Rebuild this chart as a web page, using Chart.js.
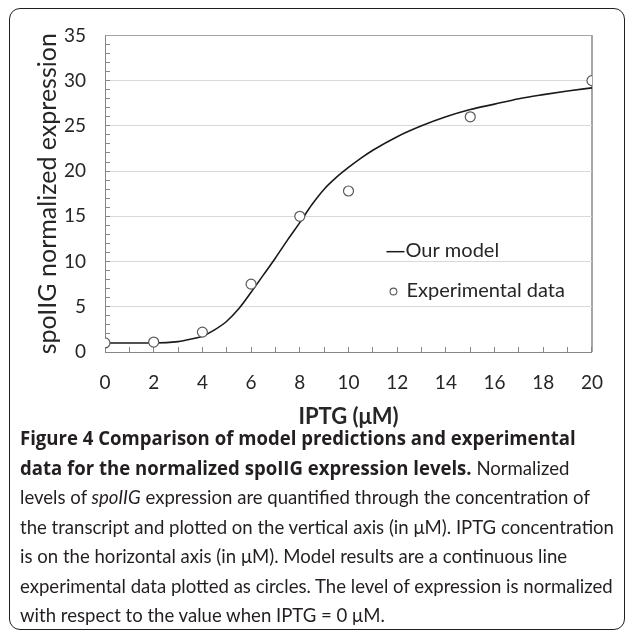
<!DOCTYPE html>
<html>
<head>
<meta charset="utf-8">
<title>Figure 4</title>
<script src="https://cdn.jsdelivr.net/npm/chart.js@4.4.1/dist/chart.umd.min.js"></script>
<style>
  html, body { margin: 0; padding: 0; background: #fff; }
  body { width: 627px; height: 632px; position: relative; overflow: hidden; font-family: "Lato", "Open Sans", sans-serif; color: #231f20; }
  .frame { position: absolute; left: 9px; top: 8px; width: 616px; height: 622px; box-sizing: border-box; border: 1.5px solid #231f20; border-radius: 11px; }
  .plot { position: absolute; left: 0; top: 0; width: 627px; height: 440px; }
  .caption { position: absolute; left: 20px; top: 423px; font-size: 20px; line-height: 29.5px; transform-origin: left top; }
  .caption div { white-space: nowrap; }
  .caption b { font-family: "Open Sans", "Lato", sans-serif; font-weight: 700; }
</style>
</head>
<body>
<div class="frame"></div>
<div class="plot"><canvas id="chart" width="627" height="440"></canvas></div>
<div class="caption" id="caption">
  <div><b>Figure 4 Comparison of model predictions and experimental</b></div>
  <div><b>data for the normalized spoIIG expression levels.</b> Normalized</div>
  <div>levels of <i>spoIIG</i> expression are quantified through the concentration of</div>
  <div id="widestLine">the transcript and plotted on the vertical axis (in μM). IPTG concentration</div>
  <div>is on the horizontal axis (in μM). Model results are a continuous line</div>
  <div>experimental data plotted as circles. The level of expression is normalized</div>
  <div>with respect to the value when IPTG = 0 μM.</div>
</div>
<script>
// model curve
const modelX = [0, 1, 2, 3, 3.5, 4, 4.5, 5, 5.5, 6, 6.5, 7, 7.5, 8, 8.5, 9, 9.5, 10, 10.5, 11, 12, 13, 14, 15, 16, 17, 18, 19, 20];
const modelY = [1.0, 1.0, 1.0, 1.15, 1.4, 1.75, 2.45, 3.4, 4.8, 6.6, 8.5, 10.4, 12.4, 14.3, 16.3, 18.0, 19.3, 20.4, 21.4, 22.3, 23.8, 25.0, 26.0, 26.8, 27.4, 28.0, 28.45, 28.85, 29.2];

// experimental points
const expX = [0, 2, 4, 6, 8, 10, 15, 20];
const expY = [1.0, 1.1, 2.2, 7.5, 15.0, 17.8, 26.0, 30.0];

// axis labels
const xTickLabels = [0, 2, 4, 6, 8, 10, 12, 14, 16, 18, 20];
const yTickLabels = [0, 5, 10, 15, 20, 25, 30, 35];
const seriesNames = ['Our model', 'Experimental data'];

const FONT = 'Lato';
const TEXT = '#262626';

// legend sits inside the plot, anchored in data units
const legendAt = { x: 11.6, rows: [11.2, 6.8] };

// top and right edges of the plot area
const plotFrame = {
    id: 'plotFrame',
    beforeDatasetsDraw(chart) {
        const { ctx, chartArea: a } = chart;
        ctx.save();
        ctx.strokeStyle = '#a6a6a6';
        ctx.lineWidth = 1;
        ctx.beginPath();
        ctx.moveTo(Math.round(a.left) + 0.5, Math.round(a.top) + 0.5);
        ctx.lineTo(Math.round(a.right) + 0.5, Math.round(a.top) + 0.5);
        ctx.lineTo(Math.round(a.right) + 0.5, Math.round(a.bottom));
        ctx.stroke();
        ctx.restore();
    }
};

const insideLegend = {
    id: 'insideLegend',
    afterDatasetsDraw(chart) {
        const { ctx, scales: { x, y } } = chart;
        const px = x.getPixelForValue(legendAt.x);
        ctx.save();
        ctx.font = '20px ' + FONT;
        ctx.fillStyle = TEXT;
        ctx.textBaseline = 'middle';

        // row 1: line sample
        let py = y.getPixelForValue(legendAt.rows[0]);
        ctx.strokeStyle = '#1a1a1a';
        ctx.lineWidth = 1.5;
        ctx.beginPath();
        ctx.moveTo(px - 1, py + 1);
        ctx.lineTo(px + 17, py + 1);
        ctx.stroke();
        ctx.fillText(chart.data.datasets[0].label, px + 18, py);

        // row 2: circle marker
        py = y.getPixelForValue(legendAt.rows[1]);
        ctx.strokeStyle = '#595959';
        ctx.lineWidth = 1.1;
        ctx.fillStyle = '#fff';
        ctx.beginPath();
        ctx.arc(px + 6, py + 1, 3.4, 0, Math.PI * 2);
        ctx.fill();
        ctx.stroke();
        ctx.fillStyle = TEXT;
        ctx.fillText(chart.data.datasets[1].label, px + 19, py);
        ctx.restore();
    }
};

const ctx = document.getElementById('chart').getContext('2d');
new Chart(ctx, {
    type: 'scatter',
    data: {
        datasets: [
            {
                label: seriesNames[0],
                data: modelX.map((v, i) => ({ x: v, y: modelY[i] })),
                showLine: true,
                borderColor: '#1a1a1a',
                borderWidth: 1.6,
                pointRadius: 0,
                cubicInterpolationMode: 'monotone',
                order: 2
            },
            {
                label: seriesNames[1],
                data: expX.map((v, i) => ({ x: v, y: expY[i] })),
                showLine: false,
                pointRadius: 5,
                pointBorderWidth: 1.2,
                pointBorderColor: '#595959',
                pointBackgroundColor: '#fff',
                order: 1
            }
        ]
    },
    plugins: [plotFrame, insideLegend],
    options: {
        responsive: false,
        devicePixelRatio: 1,
        animation: false,
        events: [],
        layout: { padding: { top: 32, right: 29, left: 0, bottom: 0 } },
        plugins: {
            legend: { display: false },
            tooltip: { enabled: false }
        },
        scales: {
            x: {
                type: 'linear',
                min: 0,
                max: 20,
                afterFit: s => { s.height = 88; },
                border: { color: '#868686', width: 1 },
                grid: {
                    color: c => c.tick && c.tick.value === 20 ? '#a6a6a6' : 'rgba(0,0,0,0)',
                    tickColor: '#868686',
                    tickLength: -5,
                    drawTicks: true
                },
                ticks: {
                    stepSize: 1,
                    autoSkip: false,
                    maxRotation: 0,
                    padding: 24,
                    color: TEXT,
                    font: { family: FONT, size: 19 },
                    callback: v => xTickLabels.includes(v) ? String(v) : ''
                },
                title: {
                    display: true,
                    text: 'IPTG (μM)',
                    color: TEXT,
                    font: { family: FONT, size: 22, weight: 'bold' },
                    padding: { top: 0, bottom: 10 }
                }
            },
            y: {
                type: 'linear',
                min: 0,
                max: 35,
                afterFit: s => { s.width = 105; },
                border: { color: '#868686', width: 1 },
                grid: {
                    color: c => {
                        if (!c.tick) return 'rgba(0,0,0,0)';
                        if (c.tick.value === 35) return '#a6a6a6';
                        return yTickLabels.includes(c.tick.value) ? '#d9d9d9' : 'rgba(0,0,0,0)';
                    },
                    tickColor: '#868686',
                    tickLength: -5,
                    drawTicks: true
                },
                ticks: {
                    stepSize: 1,
                    autoSkip: false,
                    padding: 24,
                    color: TEXT,
                    font: { family: FONT, size: 19 },
                    callback: v => yTickLabels.includes(v) ? String(v) : ''
                },
                title: {
                    display: true,
                    text: 'spoIIG normalized expression',
                    color: TEXT,
                    font: { family: FONT, size: 25 },
                    padding: { top: 33, bottom: 0 }
                }
            }
        }
    }
});

// the caption font is condensed in the original: squeeze the block so the widest line fits
const cap = document.getElementById('caption');
const widest = document.getElementById('widestLine');
const range = document.createRange();
range.selectNodeContents(widest);
const w = range.getBoundingClientRect().width;
if (w > 0) cap.style.transform = 'scaleX(' + (594 / w).toFixed(4) + ')';
</script>
</body>
</html>
